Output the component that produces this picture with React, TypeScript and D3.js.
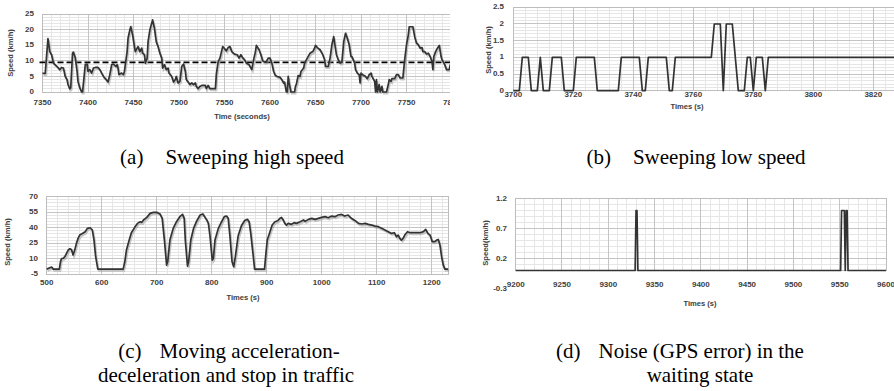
import React from "react";
import * as d3 from "d3";

// (a) sweeping at high speed, time in seconds / speed km/h
const timeA = [7350, 7353, 7356, 7358, 7360, 7362, 7366, 7369, 7371, 7373, 7375, 7377, 7378, 7380, 7381, 7383, 7384, 7386, 7388, 7389, 7391, 7393, 7394, 7397, 7399, 7400, 7402, 7404, 7406, 7408, 7411, 7413, 7415, 7417, 7420, 7422, 7424, 7426, 7428, 7431, 7432, 7433, 7434, 7437, 7439, 7440, 7441, 7443, 7444, 7446, 7447, 7449, 7451, 7452, 7454, 7455, 7457, 7459, 7460, 7462, 7463, 7465, 7466, 7468, 7471, 7473, 7475, 7477, 7479, 7481, 7482, 7484, 7486, 7488, 7489, 7492, 7494, 7496, 7497, 7499, 7501, 7503, 7505, 7507, 7508, 7510, 7512, 7514, 7516, 7518, 7519, 7521, 7523, 7525, 7529, 7530, 7532, 7534, 7540, 7541, 7543, 7545, 7548, 7550, 7552, 7554, 7556, 7558, 7561, 7564, 7566, 7568, 7570, 7572, 7574, 7577, 7579, 7580, 7582, 7584, 7585, 7588, 7590, 7592, 7594, 7596, 7598, 7600, 7602, 7604, 7606, 7608, 7611, 7613, 7615, 7616, 7618, 7619, 7620, 7621, 7623, 7627, 7628, 7629, 7631, 7633, 7634, 7637, 7638, 7641, 7644, 7647, 7649, 7650, 7652, 7655, 7658, 7660, 7661, 7664, 7666, 7668, 7670, 7671, 7673, 7675, 7677, 7679, 7681, 7683, 7685, 7687, 7689, 7690, 7693, 7694, 7696, 7698, 7699, 7700, 7703, 7704, 7707, 7709, 7711, 7712, 7715, 7716, 7717, 7718, 7720, 7721, 7723, 7724, 7728, 7730, 7731, 7733, 7734, 7737, 7739, 7741, 7743, 7746, 7748, 7750, 7752, 7753, 7757, 7759, 7761, 7763, 7765, 7767, 7768, 7770, 7772, 7774, 7776, 7778, 7779, 7780, 7782, 7784, 7786, 7788, 7789, 7792, 7794, 7797, 7798];
const speedA = [6, 6, 17.2, 13, 12, 9.3, 8.2, 7.2, 7.9, 7.7, 5, 4, 2.4, 1, 1.3, 12.5, 12.8, 11, 6.6, 3.4, 1.3, 0, 0, 8.8, 9, 6.6, 7.2, 6.1, 7.7, 7.9, 7.9, 7.2, 6.1, 5, 4, 3.2, 5.6, 8.8, 9, 8.2, 8.8, 7.7, 5.6, 6.1, 5.6, 6.6, 8.8, 13, 17.3, 20, 21, 18.4, 14.6, 13, 14.1, 14.6, 13, 14.1, 12.5, 12, 9.3, 10.9, 16.2, 20, 23.2, 20.5, 16.2, 14.6, 12.5, 10.9, 7.7, 8.8, 7.2, 7.7, 6.1, 5, 3.2, 4, 5, 2.9, 3.4, 8.2, 9, 6.6, 4, 3.2, 2.4, 2.9, 2.4, 2.9, 1.8, 1.1, 1.8, 2.1, 2.1, 1.1, 2.1, 1.1, 1.1, 5.6, 9.8, 10.9, 14.6, 14, 13.2, 14.3, 14.6, 13, 12.2, 12, 10.9, 12, 11, 10.4, 9.3, 8.8, 7.7, 7.2, 10.4, 13, 15, 13.6, 12, 10, 9.6, 9.8, 10.9, 10.9, 9.3, 6.6, 5.3, 5, 4.7, 4, 2.9, 3.2, 0, 0, 5, 2.9, 0, 0, 1.8, 2.6, 5.3, 5, 6.6, 7.7, 9.3, 10.9, 12.5, 13, 14.1, 15, 14.3, 13.6, 12, 10.4, 8.2, 8.2, 10.9, 15.2, 17.8, 15.7, 12, 10.4, 9.3, 9.6, 16.2, 18.9, 17.3, 15.2, 11.4, 11.4, 9.3, 7.2, 6.1, 5.6, 2.9, 6.1, 5.3, 5.3, 4.3, 5.6, 6.1, 5, 3.4, 0, 4, 0, 2.4, 0, 1.8, 0, 0, 2.4, 4, 3.4, 4.3, 4.3, 5.6, 5.6, 4.5, 4.5, 10.4, 15.2, 18.4, 21, 21, 17.8, 15.7, 15.2, 14.1, 14.3, 13, 13, 12.2, 12.5, 11.4, 9.8, 7.2, 11.4, 13, 14.1, 15, 11.4, 10.4, 8.8, 7.2, 7.2, 8.8];
const meanA = 9.5;
const xTicksA = [7350, 7400, 7450, 7500, 7550, 7600, 7650, 7700, 7750, 7800];
const yTicksA = [0, 5, 10, 15, 20, 25];

// (b) sweeping at low speed
const timeB = [3700, 3702, 3703, 3705, 3706, 3708, 3709, 3710, 3712, 3713, 3716, 3717, 3720, 3721, 3727, 3728, 3735, 3736, 3742, 3743, 3744, 3745, 3751, 3752, 3753, 3754, 3766, 3767, 3769, 3770, 3771, 3773, 3775, 3777, 3778, 3779, 3780, 3781, 3783, 3784, 3785, 3830];
const speedB = [0, 0, 1, 1, 0, 0, 1, 0, 0, 1, 1, 0, 0, 1, 1, 0, 0, 1, 1, 0, 0, 1, 1, 0, 0, 1, 1, 2, 2, 0, 2, 2, 0, 0, 1, 1, 0, 1, 1, 0, 1, 1];
const xTicksB = [3700, 3720, 3740, 3760, 3780, 3800, 3820];
const yTicksB = [0, 0.5, 1, 1.5, 2, 2.5];

// (c) acceleration / deceleration and stops in traffic
const timeC = [500, 509, 512, 523, 525, 527, 530, 533, 536, 539, 542, 545, 548, 551, 554, 557, 560, 565, 570, 574, 579, 583, 586, 589, 593, 639, 642, 645, 650, 654, 660, 665, 670, 673, 676, 682, 688, 694, 700, 706, 710, 714, 718, 720, 724, 730, 736, 742, 747, 750, 752, 756, 758, 762, 767, 773, 779, 784, 788, 791, 794, 797, 801, 803, 806, 812, 818, 823, 827, 830, 833, 837, 840, 843, 848, 854, 860, 865, 868, 871, 875, 878, 896, 898, 901, 906, 910, 915, 920, 924, 927, 930, 933, 936, 939, 945, 950, 954, 961, 967, 970, 976, 982, 988, 994, 1000, 1006, 1012, 1018, 1024, 1030, 1036, 1042, 1048, 1054, 1061, 1067, 1073, 1079, 1085, 1091, 1097, 1103, 1109, 1115, 1121, 1127, 1132, 1136, 1139, 1142, 1145, 1148, 1151, 1156, 1161, 1170, 1179, 1185, 1189, 1193, 1197, 1201, 1206, 1209, 1212, 1215, 1218, 1221, 1224, 1230];
const speedC = [0, 2, 0, 0, 7, 10.3, 10.5, 12, 15.2, 18.4, 19.7, 19, 13.6, 18.4, 24.9, 29.7, 32.9, 34.5, 36.2, 39.4, 40, 37.8, 28.1, 12, 0, 0, 7.1, 18.4, 28.1, 35.2, 40.4, 44.2, 45.8, 45.2, 47.5, 50, 53.9, 54.9, 54.9, 53.3, 49.1, 28.1, 3.9, 7.1, 28.1, 39.4, 45.8, 50.7, 52.9, 49.1, 28.1, 2.9, 7.1, 28.1, 39.4, 46.8, 52.3, 53.3, 50, 47.5, 44.2, 31.3, 8.7, 10.3, 28.1, 39.4, 45.8, 50.7, 51.3, 49.1, 32.9, 7.1, 2.3, 12, 32, 42, 47, 48.1, 45.8, 34.5, 15.2, 0, 0, 12, 28.1, 36.2, 42.6, 45.8, 46.8, 49.1, 50, 47.5, 44.2, 42.6, 44.2, 43.3, 44.9, 44.2, 45.8, 47.5, 46.2, 48.1, 49.1, 48.1, 49.1, 50, 50.7, 49.7, 51.3, 50.7, 52.3, 52.9, 51.3, 52.3, 49.1, 46.8, 44.2, 43.6, 44.2, 43.3, 42.6, 41.6, 41, 39.4, 37.8, 36.2, 34.5, 35.2, 31.3, 32.9, 29.7, 28.1, 29.7, 32.9, 36.2, 35.2, 35.2, 35.2, 36.2, 38.4, 34.5, 32.9, 26.5, 26.5, 28.1, 28.7, 23.2, 12, 3.9, 0, 0];
const xTicksC = [500, 600, 700, 800, 900, 1000, 1100, 1200];
const yTicksC = [-5, 10, 25, 40, 55, 70];

// (d) GPS noise while waiting
const timeD = [9200, 9329, 9330, 9331, 9332, 9551, 9552, 9555, 9556, 9557, 9558, 9559, 9600];
const speedD = [0, 0, 1, 1, 0, 0, 1, 1, 0, 1, 1, 0, 0];
const xTicksD = [9200, 9250, 9300, 9350, 9400, 9450, 9500, 9550, 9600];
const yTicksD = [-0.3, 0.2, 0.7, 1.2];

const captionA = ["(a)", "Sweeping high speed"];
const captionB = ["(b)", "Sweeping low speed"];
const captionC = ["(c)", "Moving acceleration-", "deceleration and stop in traffic"];
const captionD = ["(d)", "Noise (GPS error) in the", "waiting state"];

const labelFont = "'Liberation Sans', Arial, sans-serif";
const serif = "'Liberation Serif', 'Times New Roman', serif";

type PanelProps = {
  xs: number[];
  ys: number[];
  xDomain: [number, number];
  yDomain: [number, number];
  box: [number, number, number, number]; // left, right, top, bottom
  xTicks: number[];
  yTicks: number[];
  xMinor: number;
  yMinor: number;
  gridFloor?: number;
  xLabelY: number;
  yLabelX: number;
  xTitle: string;
  xTitlePos: [number, number];
  yTitle: string;
  yTitlePos: [number, number];
  shadow?: boolean;
  refLine?: number;
  clipId?: string;
  clipRight?: number;
};

function Panel(p: PanelProps) {
  const [left, right, top, bottom] = p.box;
  const x = d3.scaleLinear().domain(p.xDomain).range([left, right]);
  const y = d3.scaleLinear().domain(p.yDomain).range([bottom, top]);
  const floor = p.gridFloor ?? p.yDomain[0];
  const gTop = y(p.yDomain[1]);
  const gBot = y(floor);
  const eps = 1e-6;
  const xMinor = d3.range(p.xDomain[0], p.xDomain[1] + eps, p.xMinor);
  const yMinor = d3.range(floor, p.yDomain[1] + eps, p.yMinor);
  const line = d3
    .line<number>()
    .x((_, i) => x(p.xs[i]))
    .y((d) => y(d));
  const path = line(p.ys) || "";
  const fmt = (v: number) => (Number.isInteger(v) ? String(v) : String(+v.toFixed(1)));

  return (
    <g clipPath={p.clipId ? `url(#${p.clipId})` : undefined}>
      {p.clipId && (
        <defs>
          <clipPath id={p.clipId}>
            <rect x={0} y={top - 20} width={p.clipRight} height={bottom - top + 60} />
          </clipPath>
        </defs>
      )}
      <g shapeRendering="crispEdges">
        {xMinor.map((v) => (
          <line key={"vx" + v} x1={x(v)} x2={x(v)} y1={gTop} y2={gBot} stroke="#e6e6e6" />
        ))}
        {yMinor.map((v) => (
          <line key={"hy" + v} x1={left} x2={right} y1={y(v)} y2={y(v)} stroke="#e6e6e6" />
        ))}
        {p.xTicks.map((v) => (
          <line key={"VX" + v} x1={x(v)} x2={x(v)} y1={gTop} y2={gBot} stroke="#c4c4c4" />
        ))}
        {p.yTicks
          .filter((v) => v >= floor - eps)
          .map((v) => (
            <line key={"HY" + v} x1={left} x2={right} y1={y(v)} y2={y(v)} stroke="#c4c4c4" />
          ))}
        <rect x={left} y={gTop} width={right - left} height={gBot - gTop} fill="none" stroke="#bdbdbd" />
      </g>
      {p.refLine !== undefined && (
        <line
          x1={left - 3}
          x2={right}
          y1={y(p.refLine)}
          y2={y(p.refLine)}
          stroke="#000"
          strokeWidth={1.7}
          strokeDasharray="6,3"
        />
      )}
      {p.shadow && (
        <path d={path} fill="none" stroke="#9a9a9a" strokeOpacity={0.55} strokeWidth={2} transform="translate(1,1.6)" />
      )}
      <path d={path} fill="none" stroke="#333" strokeWidth={1.7} strokeLinejoin="round" />
      <g fontFamily={labelFont} fontWeight="bold" fontSize={8} fill="#404040">
        {p.xTicks.map((v) => (
          <text key={"tx" + v} x={x(v)} y={p.xLabelY} textAnchor="middle" dominantBaseline="middle">
            {v}
          </text>
        ))}
        {p.yTicks.map((v) => (
          <text key={"ty" + v} x={p.yLabelX} y={y(v)} textAnchor="end" dominantBaseline="middle">
            {fmt(v)}
          </text>
        ))}
        <text x={p.xTitlePos[0]} y={p.xTitlePos[1]} textAnchor="middle" dominantBaseline="middle" fontSize={7.6}>
          {p.xTitle}
        </text>
        <text
          transform={`translate(${p.yTitlePos[0]},${p.yTitlePos[1]}) rotate(-90)`}
          textAnchor="middle"
          dominantBaseline="middle"
          fontSize={7.6}
        >
          {p.yTitle}
        </text>
      </g>
    </g>
  );
}

function Caption({ lines, x, y, x2, gap }: { lines: string[]; x: number; y: number; x2?: number; gap: number }) {
  return (
    <g fontFamily={serif} fontSize={21} fill="#000">
      <text x={x} y={y} textAnchor="middle">
        <tspan>{lines[0]}</tspan>
        <tspan dx={gap}>{lines[1]}</tspan>
      </text>
      {lines[2] && (
        <text x={x2 ?? x} y={y + 24} textAnchor="middle">
          {lines[2]}
        </text>
      )}
    </g>
  );
}

export default function App() {
  return (
    <svg
      width={894}
      height={391}
      viewBox="0 0 894 391"
      style={{ position: "absolute", left: 0, top: 0, background: "#fff" }}
    >
      <rect width={894} height={391} fill="#fff" />
      <Panel
        xs={timeA}
        ys={speedA}
        xDomain={[7350, 7800]}
        yDomain={[0, 25]}
        box={[42.5, 452, 14.3, 92]}
        xTicks={xTicksA}
        yTicks={yTicksA}
        xMinor={10}
        yMinor={1}
        xLabelY={103}
        yLabelX={34}
        xTitle="Time (seconds)"
        xTitlePos={[242, 117]}
        yTitle="Speed (km/h)"
        yTitlePos={[11, 53]}
        shadow
        refLine={meanA}
        clipId="clipA"
        clipRight={450}
      />
      <Panel
        xs={timeB}
        ys={speedB}
        xDomain={[3700, 3830]}
        yDomain={[0, 2.5]}
        box={[513.3, 903.3, 7.3, 90.7]}
        xTicks={xTicksB}
        yTicks={yTicksB}
        xMinor={4}
        yMinor={0.1}
        xLabelY={95}
        yLabelX={504}
        xTitle="Times (s)"
        xTitlePos={[687, 107]}
        yTitle="Speed (km/h)"
        yTitlePos={[489, 50]}
      />
      <Panel
        xs={timeC}
        ys={speedC}
        xDomain={[500, 1230]}
        yDomain={[-5, 70]}
        box={[46.7, 448.2, 196.7, 274.3]}
        xTicks={xTicksC}
        yTicks={yTicksC}
        xMinor={20}
        yMinor={3}
        xLabelY={283}
        yLabelX={38}
        xTitle="Times (s)"
        xTitlePos={[243, 298]}
        yTitle="Speed (km/h)"
        yTitlePos={[8, 242]}
        shadow
      />
      <Panel
        xs={timeD}
        ys={speedD}
        xDomain={[9200, 9600]}
        yDomain={[-0.3, 1.2]}
        box={[515.7, 886, 198.5, 288.5]}
        xTicks={xTicksD}
        yTicks={yTicksD}
        xMinor={10}
        yMinor={0.1}
        gridFloor={0}
        xLabelY={285}
        yLabelX={507}
        xTitle="Times (s)"
        xTitlePos={[700, 304]}
        yTitle="Speed(km/h)"
        yTitlePos={[486, 243]}
      />
      <Caption lines={captionA} x={232} y={164} gap={22} />
      <Caption lines={captionB} x={696} y={164} gap={22} />
      <Caption lines={captionC} x={229} y={358} x2={226} gap={18} />
      <Caption lines={captionD} x={680} y={358} x2={700} gap={18} />
    </svg>
  );
}
